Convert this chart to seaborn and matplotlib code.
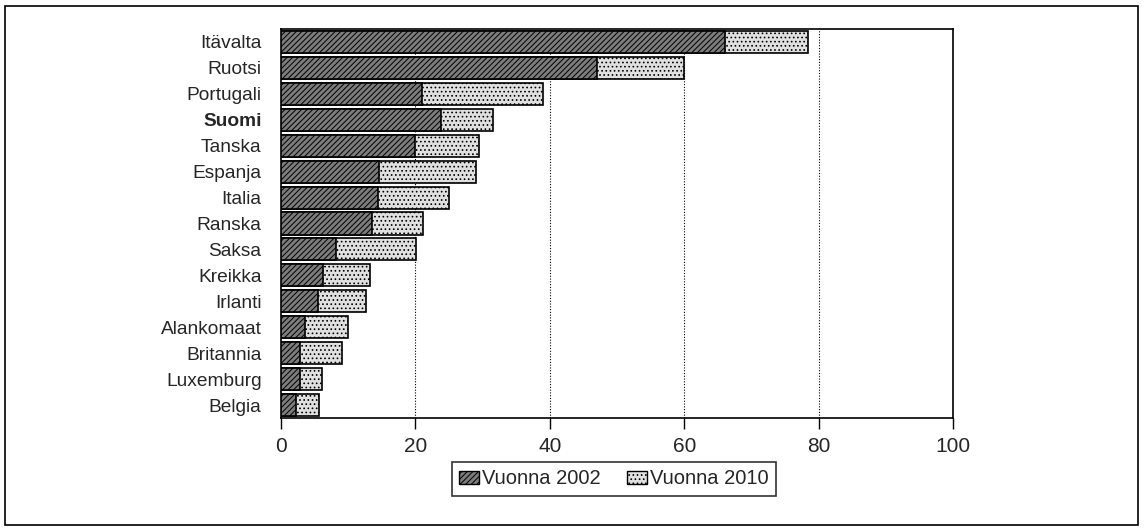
import matplotlib
matplotlib.use("Agg")
import matplotlib.pyplot as plt
import seaborn as sns
import pandas as pd
from matplotlib.patches import Rectangle, Patch

countries = ["Itävalta", "Ruotsi", "Portugali", "Suomi", "Tanska", "Espanja", "Italia",
             "Ranska", "Saksa", "Kreikka", "Irlanti", "Alankomaat", "Britannia",
             "Luxemburg", "Belgia"]
v2002 = [66.1, 47.0, 21.0, 23.8, 20.0, 14.6, 14.4, 13.5, 8.2, 6.2, 5.5, 3.6, 2.9, 2.8, 2.3]
v2010 = [78.4, 60.0, 39.0, 31.5, 29.5, 29.0, 25.0, 21.1, 20.1, 13.3, 12.6, 10.0, 9.1, 6.1, 5.7]
series_labels = ["Vuonna 2002", "Vuonna 2010"]
xticks = [0, 20, 40, 60, 80, 100]

sns.set_theme(style="white")
plt.rcParams["font.family"] = ["Liberation Sans", "DejaVu Sans"]
plt.rcParams["hatch.linewidth"] = 0.7
fs = 13.8

df = pd.DataFrame({"maa": countries, "v2002": v2002, "v2010": v2010})

fig = plt.figure(figsize=(11.44, 5.31), dpi=100)
ax = fig.add_axes([281 / 1144, 1 - 418 / 531, (953 - 281) / 1144, (418 - 29) / 531])

dark = "#7c7c7c"
light = "#e0e0e0"

sns.barplot(data=df, x="v2010", y="maa", orient="h", color=light, width=0.85,
            edgecolor="black", linewidth=1.2, saturation=1, ax=ax, zorder=2)
sns.barplot(data=df, x="v2002", y="maa", orient="h", color=dark, width=0.85,
            edgecolor="black", linewidth=1.2, saturation=1, ax=ax, zorder=3)
n = len(countries)
for i, p in enumerate(ax.patches):
    if i < n:
        p.set_hatch("....")
    else:
        p.set_hatch("//////")

ax.set_xlim(0, 100)
ax.set_xticks(xticks)
ax.set_xticklabels([str(t) for t in xticks], fontsize=15)
ax.set_xlabel("")
ax.set_ylabel("")
ax.tick_params(axis="x", direction="out", length=8, width=1, color="black", pad=6, bottom=True)
ax.tick_params(axis="y", length=0, pad=14, labelsize=fs)
for lbl in ax.get_yticklabels():
    if lbl.get_text() == "Suomi":
        lbl.set_fontweight("bold")

for x in xticks[1:-1]:
    ax.axvline(x, color="black", linestyle=(0, (1, 1.5)), linewidth=0.8, zorder=1)

for s in ax.spines.values():
    s.set_color("black")
    s.set_linewidth(1.2)
    s.set_visible(True)

handles = [Patch(facecolor=dark, edgecolor="black", hatch="//////", label=series_labels[0]),
           Patch(facecolor=light, edgecolor="black", hatch="....", label=series_labels[1])]
leg = fig.legend(handles=handles, loc="center", bbox_to_anchor=(614 / 1144, 1 - 479 / 531),
                 ncol=2, frameon=True, fontsize=14.5, handlelength=1.0, handleheight=0.6,
                 handletextpad=0.15, columnspacing=1.3, borderpad=0.35, fancybox=False)
leg.get_frame().set_edgecolor("black")
leg.get_frame().set_linewidth(1.2)

fig.patches.append(Rectangle((5 / 1144, 6 / 531), (1138 - 5) / 1144, (525 - 6) / 531,
                             transform=fig.transFigure, fill=False, edgecolor="black",
                             linewidth=1.2))

fig.savefig("out.png", dpi=100)
